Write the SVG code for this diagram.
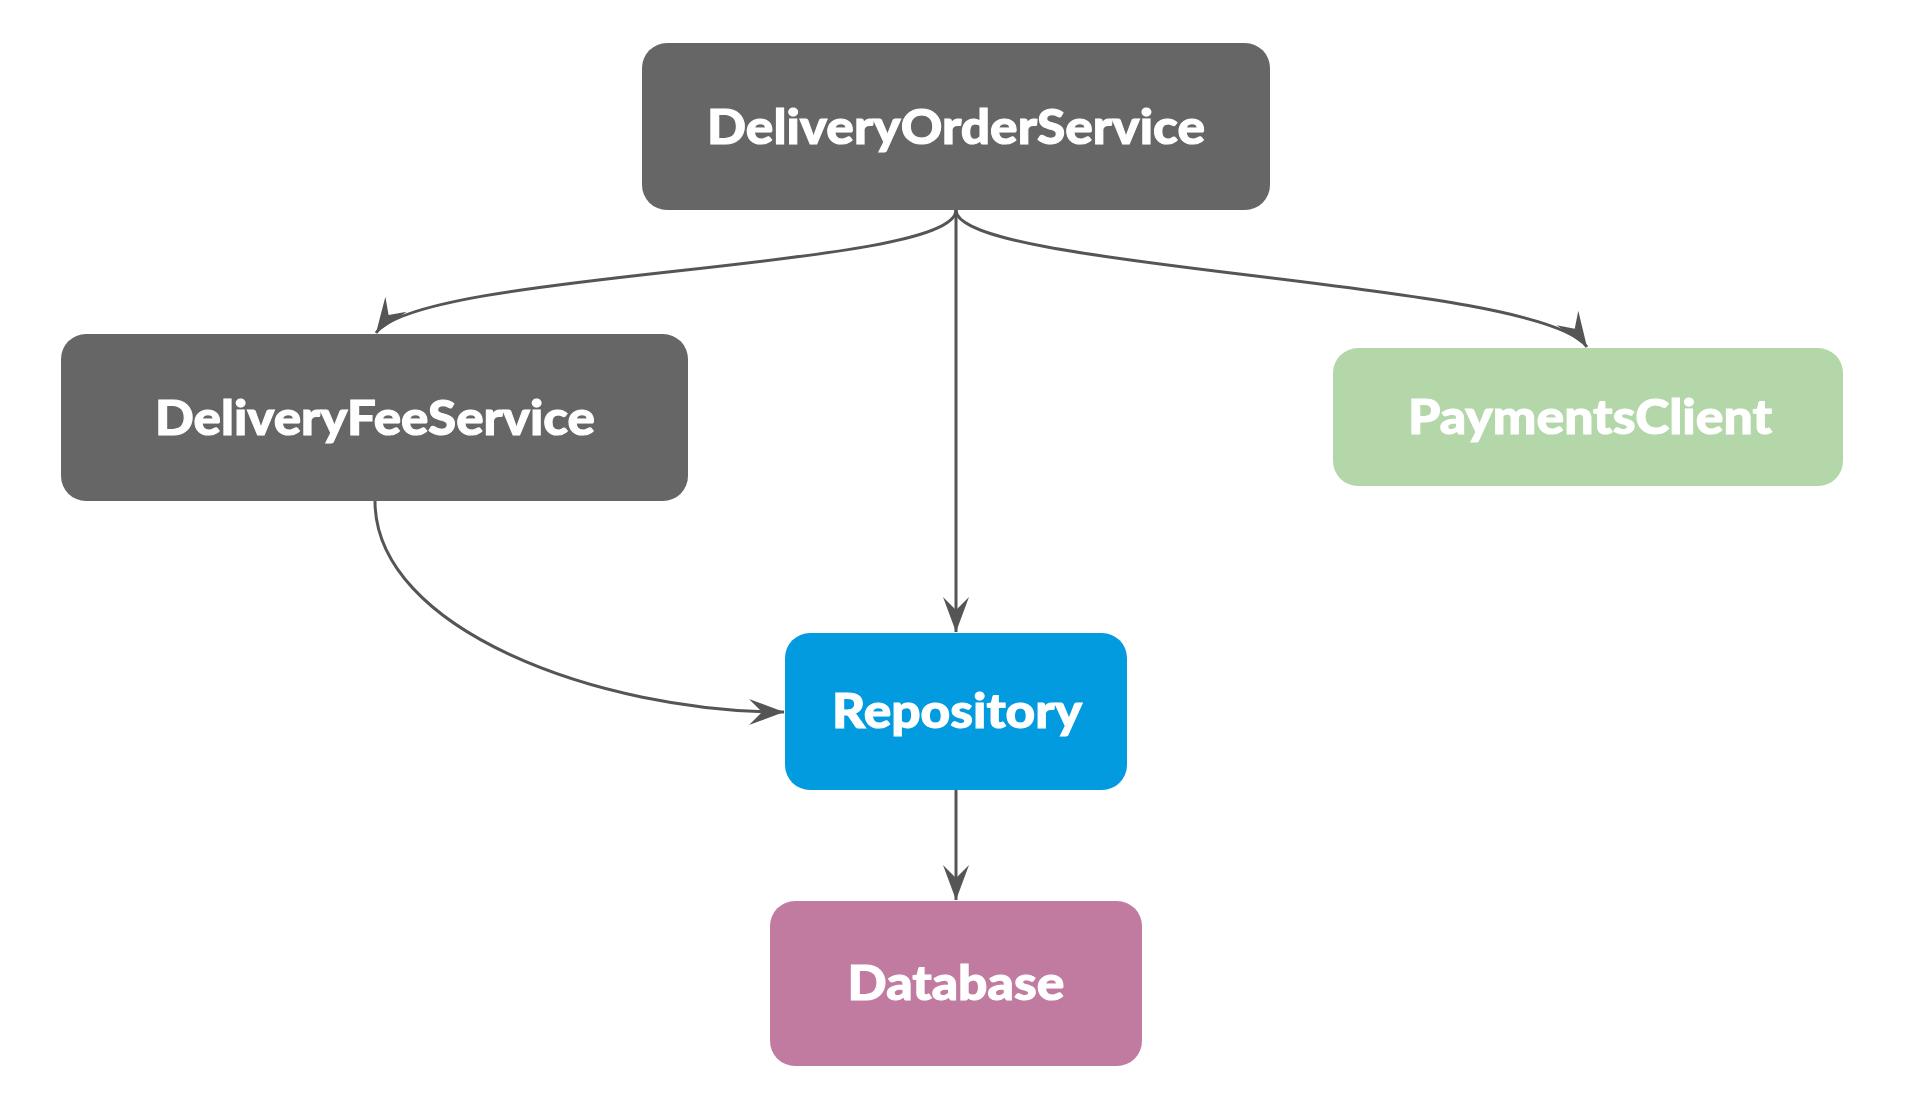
<svg xmlns="http://www.w3.org/2000/svg" width="1906" height="1108" viewBox="0 0 1906 1108">
<style>
.lbl{font-family:Lato,"Open Sans","Liberation Sans",sans-serif;font-weight:900;font-size:47px;fill:#ffffff;stroke:#ffffff;stroke-width:1;text-anchor:middle}
.edge{fill:none;stroke:#555555;stroke-width:3;marker-end:url(#arr)}
</style>
<defs>
<marker id="arr" markerUnits="userSpaceOnUse" markerWidth="40" markerHeight="30" viewBox="-36 -15 40 30" refX="0" refY="0" orient="auto" overflow="visible">
<path d="M0,0 L-35,-13 L-22,0 L-35,13 Z" fill="#555555"/>
</marker>
</defs>
<rect width="1906" height="1108" fill="#ffffff"/>
<g id="connectors">
<path class="edge" d="M956,210 C956,270 420,270 376,333"/>
<path class="edge" d="M956,210 L956,632"/>
<path class="edge" d="M956,210 C956,270 1542,280 1587,347"/>
<path class="edge" d="M375,501 C375,630 600,712 784,712"/>
<path class="edge" d="M956,790 L956,900"/>
</g>
<g id="DeliveryOrderService">
<rect x="642" y="43" width="628" height="167" rx="25" fill="#666666"/>
<text class="lbl" x="956" y="144" textLength="498" lengthAdjust="spacingAndGlyphs">DeliveryOrderService</text>
</g>
<g id="DeliveryFeeService">
<rect x="61" y="334" width="627" height="167" rx="25" fill="#666666"/>
<text class="lbl" x="375" y="435" textLength="440" lengthAdjust="spacingAndGlyphs">DeliveryFeeService</text>
</g>
<g id="PaymentsClient">
<rect x="1333" y="348" width="510" height="138" rx="25" fill="#b3d7a8"/>
<text class="lbl" x="1590" y="434" textLength="364" lengthAdjust="spacingAndGlyphs">PaymentsClient</text>
</g>
<g id="Repository">
<rect x="785" y="633" width="342" height="157" rx="25" fill="#039be0"/>
<text class="lbl" x="957" y="728" textLength="250" lengthAdjust="spacingAndGlyphs">Repository</text>
</g>
<g id="Database">
<rect x="770" y="901" width="372" height="165" rx="25" fill="#c27ba0"/>
<text class="lbl" x="956" y="1000" textLength="217" lengthAdjust="spacingAndGlyphs">Database</text>
</g>
</svg>
